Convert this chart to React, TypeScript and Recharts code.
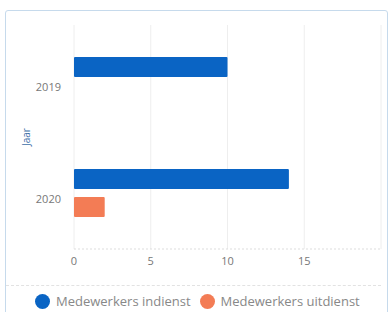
import { Bar, BarChart, CartesianGrid, XAxis, YAxis } from 'recharts';

const years = ['2019', '2020'];
const inDienst = [10, 14];
const uitDienst = [0, 2];
const xTicks = [0, 5, 10, 15];

const seriesNames = ['Medewerkers indienst', 'Medewerkers uitdienst'];
const seriesColors = ['#0a64c4', '#f37c55'];

const data = years.map((jaar, i) => ({
    jaar,
    indienst: inDienst[i],
    uitdienst: uitDienst[i],
}));

const font = '"Open Sans", "DejaVu Sans", sans-serif';

function JaarLabel(props: any) {
    const { viewBox } = props;
    const x = viewBox.x + 20;
    const y = viewBox.y + viewBox.height / 2;
    return (
        <text x={x} y={y} transform={`rotate(-90 ${x} ${y})`} textAnchor="middle" dominantBaseline="central"
            fill="#3d6fa8" fontSize={10} fontFamily={font}>
            Jaar
        </text>
    );
}

// year labels sit a little below the band centre in the original
function YearTick(props: any) {
    const { x, y, payload } = props;
    return (
        <text x={x} y={y + 5} textAnchor="end" dominantBaseline="central" fill="#777" fontSize={11} fontFamily={font}>
            {payload.value}
        </text>
    );
}

export default function App() {
    return (
        <div style={{
            position: 'absolute', left: 5, top: 10, width: 383, height: 320,
            border: '1px solid #c6daec', borderRadius: 3, boxSizing: 'border-box',
            background: '#fff', fontFamily: font,
        }}>
            <BarChart width={381} height={268} data={data} layout="vertical"
                margin={{ top: 14, right: 6, left: 0, bottom: 0 }} barSize={20} barGap={8}>
                <CartesianGrid horizontal={false} stroke="#eeeeee" />
                <XAxis type="number" domain={[0, 20]} ticks={xTicks} tickLine={false}
                    axisLine={{ stroke: '#dddddd', strokeDasharray: '2 2' }}
                    tick={{ fontSize: 11, fill: '#777', fontFamily: font }} />
                <YAxis type="category" dataKey="jaar" width={68} tickLine={false} axisLine={false} tickMargin={7}
                    tick={<YearTick />} label={<JaarLabel />} />
                <Bar dataKey="indienst" name={seriesNames[0]} fill={seriesColors[0]} radius={1} isAnimationActive={false} />
                <Bar dataKey="uitdienst" name={seriesNames[1]} fill={seriesColors[1]} radius={1} isAnimationActive={false} />
            </BarChart>
            <div style={{ borderTop: '1px dashed #e2e2e2', marginTop: 6, marginRight: 6, display: 'flex', alignItems: 'center', paddingTop: 8, paddingLeft: 29 }}>
                {seriesNames.map((name, i) => (
                    <div key={name} style={{ display: 'flex', alignItems: 'center', marginRight: 9 }}>
                        <span style={{ width: 15, height: 15, borderRadius: '50%', background: seriesColors[i], marginRight: 6, display: 'inline-block' }} />
                        <span style={{ fontSize: 13, lineHeight: '15px', color: '#888' }}>{name}</span>
                    </div>
                ))}
            </div>
        </div>
    );
}
